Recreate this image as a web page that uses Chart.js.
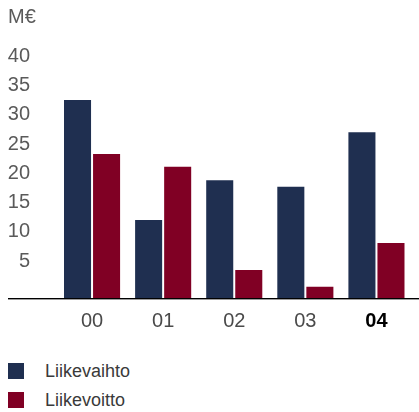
<!DOCTYPE html>
<html>
<head>
<meta charset="utf-8">
<script src="https://cdn.jsdelivr.net/npm/chart.js@4/dist/chart.umd.min.js"></script>
<style>
	html, body { margin: 0; padding: 0; background: #fff; }
	#wrap { position: relative; width: 419px; height: 412px; overflow: hidden; }
	#box { position: absolute; left: 0; top: 0; width: 419px; height: 340px; }
	.legend-item { position: absolute; left: 8px; height: 16px; font: 18px 'Liberation Sans', Arial, sans-serif; color: #3a3a3a; }
	.legend-item span.sw { position: absolute; left: 0; top: 0; width: 16px; height: 16px; }
	.legend-item span.txt { position: absolute; left: 37px; top: -2px; white-space: nowrap; line-height: 20px; }
</style>
</head>
<body>
<div id="wrap">
	<div id="box"><canvas id="chart"></canvas></div>
	<div id="legend"></div>
</div>
<script>
//data
const years = [ '00', '01', '02', '03', '04' ];
const liikevaihto = [ 33.8, 13.3, 20.1, 19.0, 28.3 ];
const liikevoitto = [ 24.6, 22.4, 4.8, 1.9, 9.4 ];
const yTicks = [ 5, 10, 15, 20, 25, 30, 35, 40 ];

const blue = '#1f2f50';
const red = '#800024';
const fontName = "'Liberation Sans', Arial, sans-serif";

//baseline under the bars, runs from the labels to the right edge
const baseLine = {
	id: 'baseLine',
	afterDatasetsDraw(chart) {
		const c = chart.ctx;
		const y = chart.scales.y.getPixelForValue(0);
		c.save();
		c.fillStyle = '#000';
		c.fillRect(8, y, chart.width - 8, 1);
		c.fillStyle = '#9a9a9a';
		c.fillRect(8, y + 1, chart.width - 8, 1);
		c.restore();
	}
};

const ctx = document.querySelector('#chart').getContext('2d');
const chart = new Chart(ctx, {
	type: 'bar',
	data: {
		labels: years,
		datasets: [
			{ label: 'Liikevaihto', backgroundColor: blue, data: liikevaihto },
			{ label: 'Liikevoitto', backgroundColor: red, data: liikevoitto }
		]
	},
	options: {
		responsive: true,
		maintainAspectRatio: false,
		animation: false,
		categoryPercentage: 0.817,
		barPercentage: 0.931,
		layout: { padding: { left: 8, right: 7, top: 0, bottom: 0 } },
		plugins: {
			legend: { display: false },
			tooltip: { enabled: false },
			title: {
				display: true,
				text: 'M€',
				align: 'start',
				color: '#5a5a5a',
				font: { family: fontName, size: 20, weight: 'normal' },
				padding: { top: 5, bottom: 34.7 }
			}
		},
		scales: {
			x: {
				grid: { display: false, drawTicks: false },
				border: { display: false },
				ticks: {
					padding: 11,
					color: (c) => (c.index === 4 ? '#000' : '#4a4a4a'),
					font: (c) => ({ family: fontName, size: 20, weight: c.index === 4 ? 'bold' : 'normal' })
				},
				afterFit: (s) => { s.height = 42; }
			},
			y: {
				min: 0,
				max: 40,
				grid: { display: false, drawTicks: false },
				border: { display: false },
				afterBuildTicks: (s) => { s.ticks = yTicks.map((v) => ({ value: v })); },
				ticks: {
					padding: 26.5,
					labelOffset: -7.5,
					color: '#5a5a5a',
					font: { family: fontName, size: 20 }
				},
				afterFit: (s) => { s.width = 48.5; }
			}
		}
	},
	plugins: [ baseLine ]
});

//legend
const legend = document.querySelector('#legend');
const legendTops = [ 363, 392 ];
chart.data.datasets.forEach((ds, i) => {
	legend.innerHTML += `
		<div class="legend-item" style="top:${legendTops[i]}px">
			<span class="sw" style="background:${ds.backgroundColor}"></span>
			<span class="txt">${ds.label}</span>
		</div>`;
});
</script>
</body>
</html>
